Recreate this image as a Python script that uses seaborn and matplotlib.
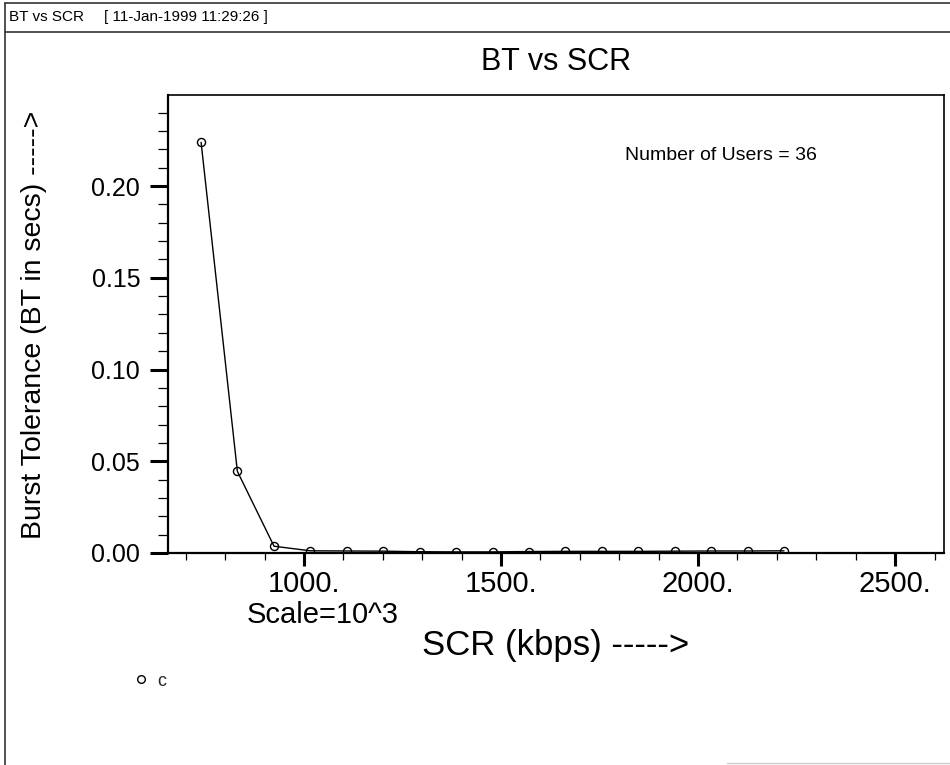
import matplotlib
matplotlib.use("Agg")
import matplotlib.pyplot as plt
import seaborn as sns
import pandas as pd
from matplotlib.lines import Line2D
from matplotlib.ticker import FixedLocator, MultipleLocator, FixedFormatter

# ---- data ----
scr_kbps = [739, 831, 924, 1016, 1109, 1201, 1294, 1386, 1479, 1571,
            1663, 1756, 1848, 1941, 2033, 2126, 2218]
burst_tolerance = [0.2238, 0.0445, 0.0037, 0.0012, 0.0011, 0.0010, 0.0007,
                   0.0006, 0.0006, 0.0008, 0.0009, 0.0009, 0.0009, 0.0010,
                   0.0011, 0.0011, 0.0012]
x_ticks = [1000, 1500, 2000, 2500]
x_tick_labels = ["1000.", "1500.", "2000.", "2500."]
y_ticks = [0.00, 0.05, 0.10, 0.15, 0.20]
y_tick_labels = ["0.00", "0.05", "0.10", "0.15", "0.20"]
series_name = "c"

df = pd.DataFrame({"SCR": scr_kbps, "BT": burst_tolerance})

sns.set_theme(style="ticks")
plt.rcParams["font.family"] = ["Liberation Sans", "DejaVu Sans"]

W, H = 950, 765
fig = plt.figure(figsize=(W / 100, H / 100), dpi=100)
fig.patch.set_facecolor("white")

L, R, T, B = 168, 944, 95, 553
ax = fig.add_axes([L / W, 1 - B / H, (R - L) / W, (B - T) / H])
ax.set_facecolor("white")

sns.lineplot(data=df, x="SCR", y="BT", ax=ax, color="black", linewidth=1.0,
             marker="o", markersize=5.8, markerfacecolor="none",
             markeredgecolor="black", markeredgewidth=1.0, legend=False)

ax.set_xlim(655, 2624)
ax.set_ylim(0, 0.2496)

ax.xaxis.set_major_locator(FixedLocator(x_ticks))
ax.xaxis.set_major_formatter(FixedFormatter(x_tick_labels))
ax.xaxis.set_minor_locator(MultipleLocator(100))
ax.yaxis.set_major_locator(FixedLocator(y_ticks))
ax.yaxis.set_major_formatter(FixedFormatter(y_tick_labels))
ax.yaxis.set_minor_locator(MultipleLocator(0.01))

ax.tick_params(axis="y", which="major", direction="out", length=13, width=2.2,
               labelsize=18, pad=7, colors="black")
ax.tick_params(axis="y", which="minor", direction="out", length=7, width=0.9,
               colors="black")
ax.tick_params(axis="x", which="major", direction="out", length=9.5, width=2.2,
               labelsize=21, pad=3, colors="black")
ax.tick_params(axis="x", which="minor", direction="out", length=5, width=0.9,
               colors="black")

for side, lw in [("left", 1.6), ("bottom", 1.6), ("top", 1.2), ("right", 1.2)]:
    ax.spines[side].set_visible(True)
    ax.spines[side].set_color("black")
    ax.spines[side].set_linewidth(lw)

ax.set_title("BT vs SCR", fontsize=22, pad=18, color="black")
ax.set_xlabel("SCR (kbps) ----->", fontsize=25, color="black")
ax.xaxis.set_label_coords(0.5, -0.166)
ax.set_ylabel("Burst Tolerance (BT in secs) ----->", fontsize=20.5,
              color="black")
ax.yaxis.set_label_coords((47 - L) / (R - L), 0.497)

ax.text((247 - L) / (R - L), (B - 615) / (B - T), "Scale=10^3",
        transform=ax.transAxes, fontsize=21, va="center", ha="left",
        color="black", clip_on=False)
ax.text((625 - L) / (R - L), (B - 156) / (B - T), "Number of Users = 36",
        transform=ax.transAxes, fontsize=14, va="center", ha="left",
        color="black")

# legend below the plot
handle = Line2D([], [], marker="o", linestyle="none", markerfacecolor="none",
                markeredgecolor="black", markersize=5.5, markeredgewidth=1.0)
fig.legend(handles=[handle], labels=[series_name], loc="center left",
           bbox_to_anchor=(132 / W, 1 - 681 / H), frameon=False, fontsize=13,
           borderpad=0, borderaxespad=0, handlelength=1.0, handletextpad=0.4)

# header bar
fig.text(9 / W, 1 - 17 / H, "BT vs SCR", fontsize=11, va="center",
         ha="left", color="black")
fig.text(104 / W, 1 - 17 / H, "[ 11-Jan-1999 11:29:26 ]", fontsize=11,
         va="center", ha="left", color="black")
fig.add_artist(Line2D([5 / W, 1], [1 - 3 / H, 1 - 3 / H], color="#333333",
                      linewidth=1.2, transform=fig.transFigure))
fig.add_artist(Line2D([5 / W, 1], [1 - 32 / H, 1 - 32 / H], color="#333333",
                      linewidth=1.2, transform=fig.transFigure))
fig.add_artist(Line2D([5 / W, 5 / W], [1 - 3 / H, 0], color="#333333",
                      linewidth=1.2, transform=fig.transFigure))
fig.add_artist(Line2D([727 / W, 1], [1 - 763 / H, 1 - 763 / H], color="#cccccc",
                      linewidth=1.0, transform=fig.transFigure))

fig.savefig("out.png", dpi=100, facecolor="white")
